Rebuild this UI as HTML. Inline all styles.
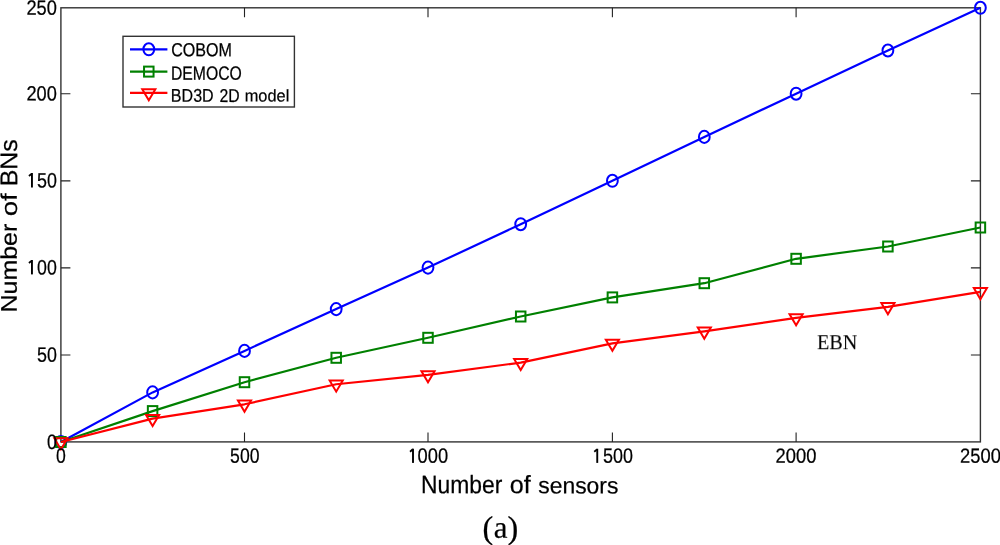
<!DOCTYPE html>
<html><head><meta charset="utf-8"><style>
html,body{margin:0;padding:0;background:#fff;}
body{width:1000px;height:545px;overflow:hidden;}
svg{display:block;}
.t{filter:grayscale(1);}
</style></head><body>
<svg width="1000" height="545" viewBox="0 0 1000 545">
<rect width="1000" height="545" fill="#fff"/>
<rect x="60.9" y="7.8" width="919.50" height="434.10" fill="none" stroke="#333" stroke-width="1.4"/>
<path d="M244.50 441.9V432.4M244.50 7.8V17.3M428.00 441.9V432.4M428.00 7.8V17.3M612.40 441.9V432.4M612.40 7.8V17.3M796.10 441.9V432.4M796.10 7.8V17.3M60.9 355.00H70.4M980.4 355.00H970.9M60.9 267.90H70.4M980.4 267.90H970.9M60.9 180.90H70.4M980.4 180.90H970.9M60.9 93.80H70.4M980.4 93.80H970.9" stroke="#222" stroke-width="1.1" fill="none"/>
<polyline points="60.90,442.00 152.60,392.40 244.50,350.90 336.20,309.10 428.00,267.60 520.70,224.20 612.40,180.80 704.30,136.90 796.10,93.70 887.90,50.50 980.40,7.80" fill="none" stroke="#0000ff" stroke-width="2.2" stroke-linejoin="round"/>
<ellipse cx="60.90" cy="442.00" rx="5.4" ry="6.05" fill="none" stroke="#0000ff" stroke-width="2.0"/>
<ellipse cx="152.60" cy="392.40" rx="5.4" ry="6.05" fill="none" stroke="#0000ff" stroke-width="2.0"/>
<ellipse cx="244.50" cy="350.90" rx="5.4" ry="6.05" fill="none" stroke="#0000ff" stroke-width="2.0"/>
<ellipse cx="336.20" cy="309.10" rx="5.4" ry="6.05" fill="none" stroke="#0000ff" stroke-width="2.0"/>
<ellipse cx="428.00" cy="267.60" rx="5.4" ry="6.05" fill="none" stroke="#0000ff" stroke-width="2.0"/>
<ellipse cx="520.70" cy="224.20" rx="5.4" ry="6.05" fill="none" stroke="#0000ff" stroke-width="2.0"/>
<ellipse cx="612.40" cy="180.80" rx="5.4" ry="6.05" fill="none" stroke="#0000ff" stroke-width="2.0"/>
<ellipse cx="704.30" cy="136.90" rx="5.4" ry="6.05" fill="none" stroke="#0000ff" stroke-width="2.0"/>
<ellipse cx="796.10" cy="93.70" rx="5.4" ry="6.05" fill="none" stroke="#0000ff" stroke-width="2.0"/>
<ellipse cx="887.90" cy="50.50" rx="5.4" ry="6.05" fill="none" stroke="#0000ff" stroke-width="2.0"/>
<ellipse cx="980.40" cy="7.80" rx="5.4" ry="6.05" fill="none" stroke="#0000ff" stroke-width="2.0"/>
<polyline points="60.90,442.00 152.60,411.10 244.50,382.20 336.20,357.80 428.00,337.80 520.70,316.50 612.40,297.40 704.30,283.20 796.10,258.80 887.90,246.50 980.40,227.50" fill="none" stroke="#008000" stroke-width="2.2" stroke-linejoin="round"/>
<rect x="56.15" y="437.00" width="9.5" height="10.0" fill="none" stroke="#008000" stroke-width="2.0"/>
<rect x="147.85" y="406.10" width="9.5" height="10.0" fill="none" stroke="#008000" stroke-width="2.0"/>
<rect x="239.75" y="377.20" width="9.5" height="10.0" fill="none" stroke="#008000" stroke-width="2.0"/>
<rect x="331.45" y="352.80" width="9.5" height="10.0" fill="none" stroke="#008000" stroke-width="2.0"/>
<rect x="423.25" y="332.80" width="9.5" height="10.0" fill="none" stroke="#008000" stroke-width="2.0"/>
<rect x="515.95" y="311.50" width="9.5" height="10.0" fill="none" stroke="#008000" stroke-width="2.0"/>
<rect x="607.65" y="292.40" width="9.5" height="10.0" fill="none" stroke="#008000" stroke-width="2.0"/>
<rect x="699.55" y="278.20" width="9.5" height="10.0" fill="none" stroke="#008000" stroke-width="2.0"/>
<rect x="791.35" y="253.80" width="9.5" height="10.0" fill="none" stroke="#008000" stroke-width="2.0"/>
<rect x="883.15" y="241.50" width="9.5" height="10.0" fill="none" stroke="#008000" stroke-width="2.0"/>
<rect x="975.65" y="222.50" width="9.5" height="10.0" fill="none" stroke="#008000" stroke-width="2.0"/>
<polyline points="60.90,442.00 152.60,418.60 244.50,404.30 336.20,384.25 428.00,374.85 520.70,362.60 612.40,343.40 704.30,331.30 796.10,317.90 887.90,306.80 980.40,291.80" fill="none" stroke="#ff0000" stroke-width="2.2" stroke-linejoin="round"/>
<path d="M54.35 438.30H67.45L60.90 449.40Z" fill="none" stroke="#ff0000" stroke-width="2.0" stroke-linejoin="miter"/>
<path d="M146.05 414.90H159.15L152.60 426.00Z" fill="none" stroke="#ff0000" stroke-width="2.0" stroke-linejoin="miter"/>
<path d="M237.95 400.60H251.05L244.50 411.70Z" fill="none" stroke="#ff0000" stroke-width="2.0" stroke-linejoin="miter"/>
<path d="M329.65 380.55H342.75L336.20 391.65Z" fill="none" stroke="#ff0000" stroke-width="2.0" stroke-linejoin="miter"/>
<path d="M421.45 371.15H434.55L428.00 382.25Z" fill="none" stroke="#ff0000" stroke-width="2.0" stroke-linejoin="miter"/>
<path d="M514.15 358.90H527.25L520.70 370.00Z" fill="none" stroke="#ff0000" stroke-width="2.0" stroke-linejoin="miter"/>
<path d="M605.85 339.70H618.95L612.40 350.80Z" fill="none" stroke="#ff0000" stroke-width="2.0" stroke-linejoin="miter"/>
<path d="M697.75 327.60H710.85L704.30 338.70Z" fill="none" stroke="#ff0000" stroke-width="2.0" stroke-linejoin="miter"/>
<path d="M789.55 314.20H802.65L796.10 325.30Z" fill="none" stroke="#ff0000" stroke-width="2.0" stroke-linejoin="miter"/>
<path d="M881.35 303.10H894.45L887.90 314.20Z" fill="none" stroke="#ff0000" stroke-width="2.0" stroke-linejoin="miter"/>
<path d="M973.85 288.10H986.95L980.40 299.20Z" fill="none" stroke="#ff0000" stroke-width="2.0" stroke-linejoin="miter"/>
<rect x="123.0" y="36.3" width="171.40" height="70.70" fill="#fff" stroke="#333" stroke-width="1.4"/>
<path d="M130.0 49.3H167.4" stroke="#0000ff" stroke-width="2.2"/>
<ellipse cx="148.80" cy="49.30" rx="5.4" ry="6.05" fill="none" stroke="#0000ff" stroke-width="2.0"/>
<path d="M130.0 71.6H167.4" stroke="#008000" stroke-width="2.2"/>
<rect x="144.05" y="66.60" width="9.5" height="10.0" fill="none" stroke="#008000" stroke-width="2.0"/>
<path d="M130.0 92.9H167.4" stroke="#ff0000" stroke-width="2.2"/>
<path d="M142.25 89.20H155.35L148.80 100.30Z" fill="none" stroke="#ff0000" stroke-width="2.0" stroke-linejoin="miter"/>
<g class="t"><text transform="translate(46.917,448.883) matrix(1,0.001,0.001,1,0,0) scale(0.9109,1.0691)" font-family="Liberation Sans" font-size="19.5" stroke="#000" stroke-width="0.22" stroke-linejoin="round">0</text>
<text transform="translate(36.956,361.683) matrix(1,0.001,0.001,1,0,0) scale(0.9190,1.0691)" font-family="Liberation Sans" font-size="19.5" stroke="#000" stroke-width="0.22" stroke-linejoin="round">50</text>
<text transform="translate(37.075,274.483) matrix(1,0.001,0.001,1,0,0) scale(0.9133,1.0691)" font-family="Liberation Sans" font-size="19.5" stroke="#000" stroke-width="0.22" stroke-linejoin="round">00</text>
<text transform="translate(36.956,187.583) matrix(1,0.001,0.001,1,0,0) scale(0.9190,1.0691)" font-family="Liberation Sans" font-size="19.5" stroke="#000" stroke-width="0.22" stroke-linejoin="round">50</text>
<text transform="translate(26.414,100.485) matrix(1,0.001,0.001,1,0,0) scale(0.9363,1.0595)" font-family="Liberation Sans" font-size="19.5" stroke="#000" stroke-width="0.22" stroke-linejoin="round">200</text>
<text transform="translate(26.414,14.685) matrix(1,0.001,0.001,1,0,0) scale(0.9363,1.0595)" font-family="Liberation Sans" font-size="19.5" stroke="#000" stroke-width="0.22" stroke-linejoin="round">250</text>
<text transform="translate(56.020,462.734) matrix(1,0.001,0.001,1,0,0) scale(0.9067,1.0647)" font-family="Liberation Sans" font-size="19.5" stroke="#000" stroke-width="0.22" stroke-linejoin="round">0</text>
<text transform="translate(230.109,462.734) matrix(1,0.001,0.001,1,0,0) scale(0.9036,1.0647)" font-family="Liberation Sans" font-size="19.5" stroke="#000" stroke-width="0.22" stroke-linejoin="round">500</text>
<text transform="translate(417.596,462.734) matrix(1,0.001,0.001,1,0,0) scale(0.9387,1.0647)" font-family="Liberation Sans" font-size="19.5" stroke="#000" stroke-width="0.22" stroke-linejoin="round">000</text>
<text transform="translate(602.893,462.734) matrix(1,0.001,0.001,1,0,0) scale(0.9221,1.0647)" font-family="Liberation Sans" font-size="19.5" stroke="#000" stroke-width="0.22" stroke-linejoin="round">500</text>
<text transform="translate(775.568,462.736) matrix(1,0.001,0.001,1,0,0) scale(0.9415,1.0551)" font-family="Liberation Sans" font-size="19.5" stroke="#000" stroke-width="0.22" stroke-linejoin="round">2000</text>
<text transform="translate(960.099,462.736) matrix(1,0.001,0.001,1,0,0) scale(0.9408,1.0551)" font-family="Liberation Sans" font-size="19.5" stroke="#000" stroke-width="0.22" stroke-linejoin="round">2500</text>
<text transform="translate(421.069,493.147) matrix(1,0.001,0.001,1,0,0) scale(0.9156,1.0122)" font-family="Liberation Sans" font-size="25" stroke="#000" stroke-width="0.22" stroke-linejoin="round">Number</text>
<text transform="translate(509.694,493.348) matrix(1,0.001,0.001,1,0,0) scale(1.0063,1.0068)" font-family="Liberation Sans" font-size="25" stroke="#000" stroke-width="0.22" stroke-linejoin="round">of</text>
<text transform="translate(538.213,493.367) matrix(1,0.001,0.001,1,0,0) scale(0.9164,0.9309)" font-family="Liberation Sans" font-size="25" stroke="#000" stroke-width="0.22" stroke-linejoin="round">sensors</text>
<text transform="translate(16.873,312.395) matrix(1,0.001,0.001,1,0,0) rotate(-90) scale(0.9977,0.9088)" font-family="Liberation Sans" font-size="25" stroke="#000" stroke-width="0.22" stroke-linejoin="round">Number</text>
<text transform="translate(16.876,216.307) matrix(1,0.001,0.001,1,0,0) rotate(-90) scale(1.1069,0.8980)" font-family="Liberation Sans" font-size="25" stroke="#000" stroke-width="0.22" stroke-linejoin="round">of</text>
<text transform="translate(17.157,186.289) matrix(1,0.001,0.001,1,0,0) rotate(-90) scale(0.9944,0.9714)" font-family="Liberation Sans" font-size="25" stroke="#000" stroke-width="0.22" stroke-linejoin="round">BNs</text>
<text transform="translate(816.982,348.800) matrix(1,0.001,0.001,1,0,0) scale(0.9881,1.0318)" font-family="Liberation Serif" font-size="20.5" stroke="#000" stroke-width="0.08" stroke-linejoin="round">EBN</text>
<text transform="translate(482.532,538.488) matrix(1,0.001,0.001,1,0,0) scale(0.9950,0.9950)" font-family="Liberation Serif" font-size="32.5" stroke="#000" stroke-width="0.22" stroke-linejoin="round">(</text>
<text transform="translate(493.825,537.760) matrix(1,0.001,0.001,1,0,0) scale(0.9553,0.9613)" font-family="Liberation Serif" font-size="32.5" stroke="#000" stroke-width="0.22" stroke-linejoin="round">a</text>
<text transform="translate(507.505,538.488) matrix(1,0.001,0.001,1,0,0) scale(0.9950,0.9950)" font-family="Liberation Serif" font-size="32.5" stroke="#000" stroke-width="0.22" stroke-linejoin="round">)</text>
<text transform="translate(171.131,56.161) matrix(1,0.001,0.001,1,0,0) scale(0.9474,1.1133)" font-family="Liberation Sans" font-size="17" stroke="#000" stroke-width="0.22" stroke-linejoin="round">COBOM</text>
<text transform="translate(170.924,79.759) matrix(1,0.001,0.001,1,0,0) scale(0.9277,1.1292)" font-family="Liberation Sans" font-size="17" stroke="#000" stroke-width="0.22" stroke-linejoin="round">DEMOCO</text>
<text transform="translate(170.840,101.765) matrix(1,0.001,0.001,1,0,0) scale(0.9452,1.0833)" font-family="Liberation Sans" font-size="17" stroke="#000" stroke-width="0.22" stroke-linejoin="round">BD3D</text>
<text transform="translate(219.486,101.900) matrix(1,0.001,0.001,1,0,0) scale(0.9300,1.0947)" font-family="Liberation Sans" font-size="17" stroke="#000" stroke-width="0.22" stroke-linejoin="round">2D</text>
<text transform="translate(244.716,101.450) matrix(1,0.001,0.001,1,0,0) scale(0.9636,1.0000)" font-family="Liberation Sans" font-size="17" stroke="#000" stroke-width="0.22" stroke-linejoin="round">model</text>
<rect x="31.00" y="260.00" width="1.9" height="14.40"/>
<path d="M31.75 260.60L28.95 263.00" stroke="#000" stroke-width="1.8"/>
<rect x="31.00" y="173.00" width="1.9" height="14.50"/>
<path d="M31.75 173.60L28.95 176.00" stroke="#000" stroke-width="1.8"/>
<rect x="412.05" y="448.70" width="1.9" height="14.20"/>
<path d="M412.80 449.30L410.00 451.70" stroke="#000" stroke-width="1.8"/>
<rect x="596.30" y="448.75" width="1.9" height="14.15"/>
<path d="M597.05 449.35L594.25 451.75" stroke="#000" stroke-width="1.8"/></g>
</svg>
</body></html>
